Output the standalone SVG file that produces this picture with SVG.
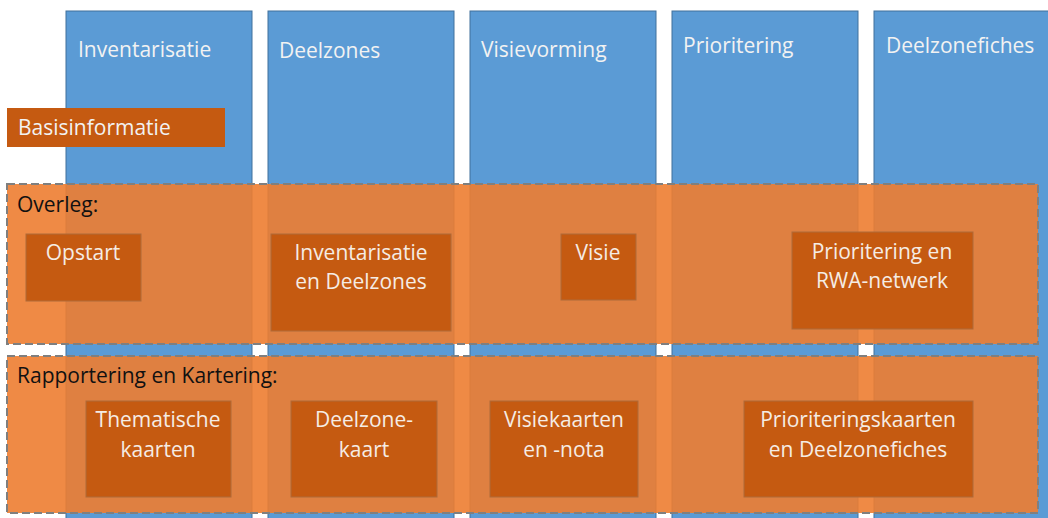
<svg xmlns="http://www.w3.org/2000/svg" width="1048" height="518" viewBox="0 0 1048 518">
<style>
.col{fill:#5B9BD5;stroke:#41719C;stroke-width:1}
.colt{font-family:"Open Sans","Noto Sans",sans-serif;font-size:21px;fill:#F2F2F2}
.band{fill:#ED7D31;fill-opacity:0.9;stroke:#7F7F7F;stroke-width:2;stroke-dasharray:8 4}
.bandt{font-family:"Open Sans","Noto Sans",sans-serif;font-size:21px;fill:#111}
.box{fill:#C55A11;stroke:#AE6A3A;stroke-width:1}
.boxt{font-family:"Open Sans","Noto Sans",sans-serif;font-size:21px;fill:#F5ECE4;text-anchor:middle}
</style>
<rect width="1048" height="518" fill="#fff"/>
<g id="phases">
<g id="col-inventarisatie"><rect class="col" x="66" y="11" width="186" height="520"/><text class="colt" x="78" y="57">Inventarisatie</text></g>
<g id="col-deelzones"><rect class="col" x="268" y="11" width="186" height="520"/><text class="colt" x="279" y="58">Deelzones</text></g>
<g id="col-visievorming"><rect class="col" x="470" y="11" width="186" height="520"/><text class="colt" x="481" y="57">Visievorming</text></g>
<g id="col-prioritering"><rect class="col" x="672" y="11" width="186" height="520"/><text class="colt" x="683" y="53">Prioritering</text></g>
<g id="col-deelzonefiches"><rect class="col" x="874" y="11" width="186" height="520"/><text class="colt" x="886" y="53">Deelzonefiches</text></g>
</g>
<g id="basisinformatie"><rect x="7" y="108" width="218" height="39" fill="#C55A11"/><text class="colt" x="18" y="135">Basisinformatie</text></g>
<g id="overleg">
<rect class="band" x="7" y="184" width="1031" height="160"/>
<text class="bandt" x="17" y="212">Overleg:</text>
</g>
<g id="opstart"><rect class="box" x="26" y="234" width="115" height="67"/><text class="boxt" x="83" y="260">Opstart</text></g>
<g id="inv-deelzones"><rect class="box" x="271" y="234" width="180" height="97"/><text class="boxt" x="361" y="260">Inventarisatie</text><text class="boxt" x="361" y="289">en Deelzones</text></g>
<g id="visie"><rect class="box" x="561" y="234" width="75" height="66"/><text class="boxt" x="598" y="260">Visie</text></g>
<g id="prio-rwa"><rect class="box" x="792" y="232" width="181" height="97"/><text class="boxt" x="882" y="259">Prioritering en</text><text class="boxt" x="882" y="288">RWA-netwerk</text></g>
<g id="rapportering">
<rect class="band" x="7" y="356" width="1031" height="157"/>
<text class="bandt" x="17" y="383">Rapportering en Kartering:</text>
</g>
<g id="thematische"><rect class="box" x="86" y="401" width="145" height="96"/><text class="boxt" x="158" y="427">Thematische</text><text class="boxt" x="158" y="457">kaarten</text></g>
<g id="deelzonekaart"><rect class="box" x="291" y="401" width="146" height="96"/><text class="boxt" x="364" y="427">Deelzone-</text><text class="boxt" x="364" y="457">kaart</text></g>
<g id="visiekaarten"><rect class="box" x="490" y="401" width="148" height="96"/><text class="boxt" x="564" y="427">Visiekaarten</text><text class="boxt" x="564" y="457">en -nota</text></g>
<g id="prio-kaarten"><rect class="box" x="744" y="401" width="229" height="96"/><text class="boxt" x="858" y="427">Prioriteringskaarten</text><text class="boxt" x="858" y="457">en Deelzonefiches</text></g>
<g id="connectors"></g>
</svg>
